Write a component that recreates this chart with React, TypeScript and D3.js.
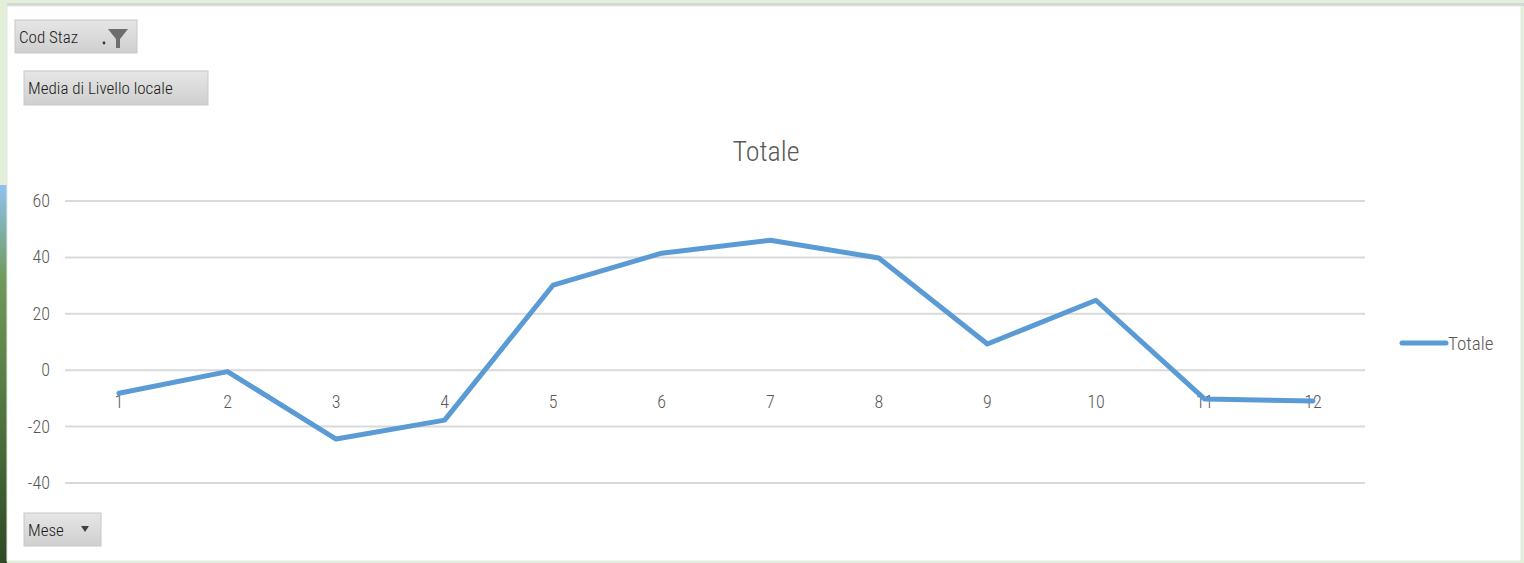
import React from "react";
import * as d3 from "d3";

const months = ["1", "2", "3", "4", "5", "6", "7", "8", "9", "10", "11", "12"];
const totale = [-8.2, -0.5, -24.4, -17.7, 30.2, 41.5, 46.1, 39.8, 9.3, 24.8, -10.2, -10.9];
const yTicks = [-40, -20, 0, 20, 40, 60];
const title = "Totale";
const seriesName = "Totale";

const W = 1524;
const H = 563;
const FONT = "'Liberation Sans Narrow', 'Roboto Condensed', Roboto, sans-serif";

export default function App() {
  const y = d3.scaleLinear().domain([-40, 60]).range([483, 201]);
  const x = d3.scalePoint<string>().domain(months).range([119, 1313]);
  const line = d3
    .line<number>()
    .x((_, i) => x(months[i]) as number)
    .y((d) => y(d));

  const button = (bx: number, by: number, bw: number, bh: number, label: string) => (
    <g>
      <rect x={bx} y={by} width={bw} height={bh} fill="url(#btnGrad)" stroke="#c8c8c8" strokeWidth={1} />
      <text x={bx + 4} y={by + bh / 2 + 6} fontSize={17} fill="#1a1a1a" fontFamily={FONT} fontWeight={300}>
        {label}
      </text>
    </g>
  );

  return (
    <svg width={W} height={H} style={{ position: "absolute", left: 0, top: 0 }}>
      <defs>
        <linearGradient id="btnGrad" x1="0" y1="0" x2="0" y2="1">
          <stop offset="0" stopColor="#e6e6e6" />
          <stop offset="1" stopColor="#cfcfcf" />
        </linearGradient>
        <linearGradient id="sideGrad" x1="0" y1="0" x2="0" y2="1">
          <stop offset="0" stopColor="#8fc3ef" />
          <stop offset="0.25" stopColor="#6f9a5a" />
          <stop offset="1" stopColor="#2f4a22" />
        </linearGradient>
      </defs>
      <rect x={0} y={0} width={W} height={H} fill="#e3efd9" />
      <rect x={0} y={185} width={7} height={H - 185} fill="url(#sideGrad)" />
      <rect x={7} y={3} width={W - 7} height={3} fill="#d6d6d6" />
      <rect x={7} y={6} width={W - 10} height={H - 8} fill="#ffffff" stroke="#e6e6e6" strokeWidth={1} />

      {button(15, 20, 122, 33, "Cod Staz")}
      <g fill="#6e6e6e">
        <path d="M108,29 L128,29 L120,39 L120,48 L116,48 L116,39 Z" />
        <circle cx={104} cy={43} r={1.4} fill="#333" />
      </g>
      {button(24, 71, 184, 34, "Media  di Livello locale")}
      {button(24, 513, 77, 33, "Mese")}
      <path d="M81,526 L89,526 L85,532 Z" fill="#404040" />

      <text x={766} y={161} textAnchor="middle" fontSize={28} fill="#595959" fontFamily={FONT} fontWeight={300}>
        {title}
      </text>

      {yTicks.map((t) => (
        <g key={t}>
          <line x1={65} x2={1365} y1={y(t)} y2={y(t)} stroke="#d9d9d9" strokeWidth={2} />
          <text x={50} y={y(t) + 6} textAnchor="end" fontSize={18} fill="#595959" fontFamily={FONT} fontWeight={300}>
            {t}
          </text>
        </g>
      ))}

      {months.map((m) => (
        <text key={m} x={x(m)} y={y(0) + 38} textAnchor="middle" fontSize={18} fill="#595959" fontFamily={FONT} fontWeight={300}>
          {m}
        </text>
      ))}

      <path d={line(totale) ?? ""} fill="none" stroke="#5b9bd5" strokeWidth={5} strokeLinejoin="round" strokeLinecap="round" />

      <line x1={1402} x2={1446} y1={343} y2={343} stroke="#5b9bd5" strokeWidth={5} strokeLinecap="round" />
      <text x={1448} y={350} fontSize={19} fill="#595959" fontFamily={FONT} fontWeight={300}>
        {seriesName}
      </text>
    </svg>
  );
}
